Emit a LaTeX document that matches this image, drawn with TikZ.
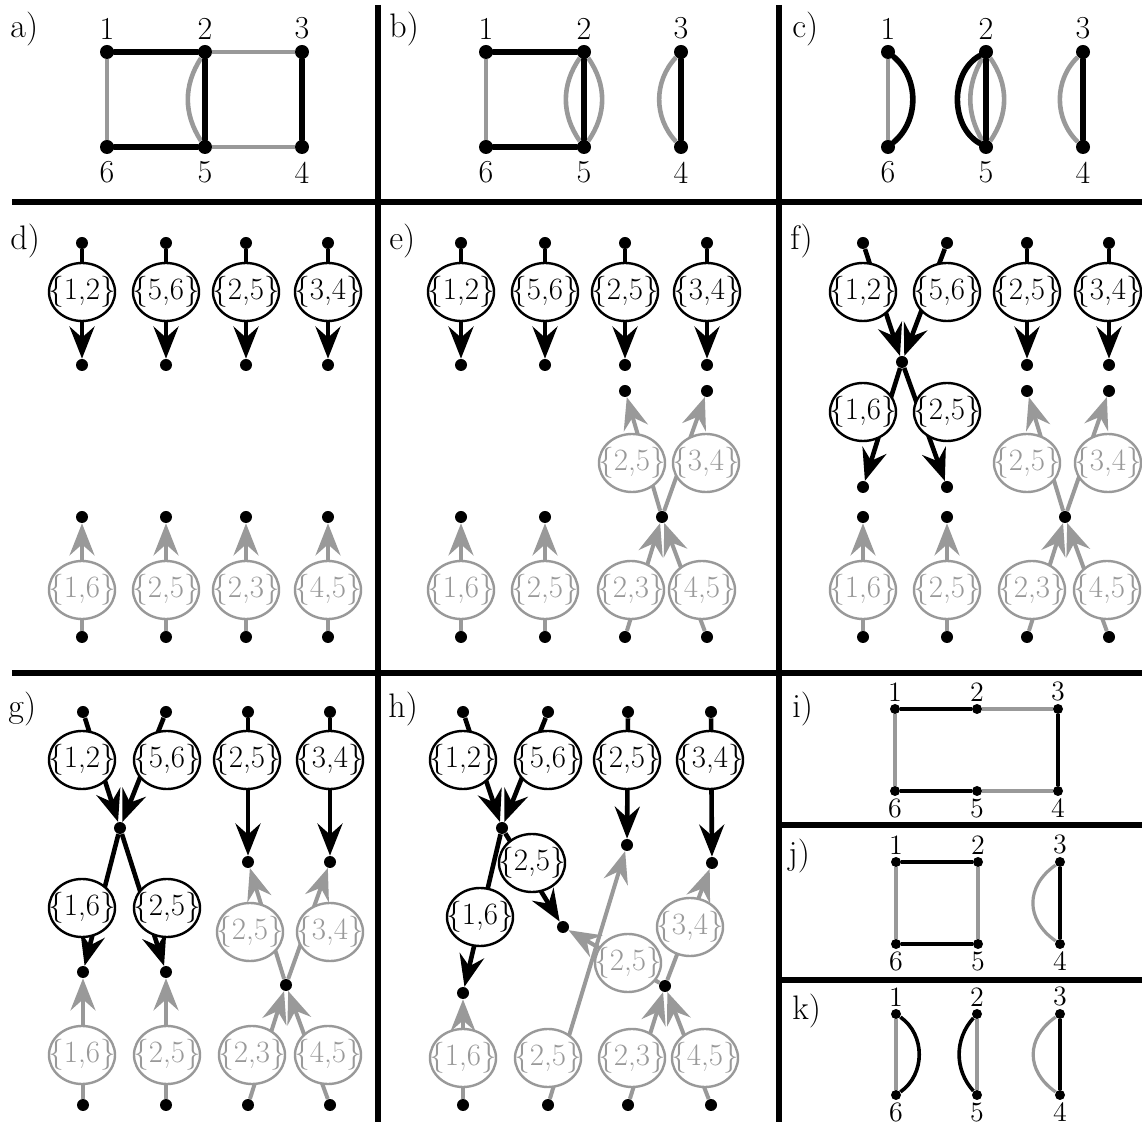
\documentclass[tikz,border=0pt]{standalone}
\usetikzlibrary{arrows.meta,shapes.geometric}
\definecolor{grayc}{gray}{0.6}
\begin{document}
\begin{tikzpicture}[x=0.5pt,y=-0.5pt,
  >={Stealth[length=16pt,width=12.5pt,inset=5.5pt]},
  sepl/.style={line width=2.8pt},
  vdot/.style={circle,fill=black,inner sep=0pt,minimum size=7pt},
  sdot/.style={circle,fill=black,inner sep=0pt,minimum size=5pt},
  pdot/.style={circle,fill=black,inner sep=0pt,minimum size=6pt},
  plab/.style={font=\fontsize{17}{19}\selectfont,anchor=base west,inner sep=0pt},
  numa/.style={font=\fontsize{16}{18}\selectfont,inner sep=2.5pt},
  numb/.style={font=\fontsize{16}{18}\selectfont,inner sep=3.5pt},
  nsa/.style={font=\fontsize{14}{16}\selectfont,inner sep=1pt},
  nsb/.style={font=\fontsize{14}{16}\selectfont,inner sep=1pt},
  ablk/.style={line width=2.8pt,line cap=round},
  agry/.style={line width=2.3pt,draw=grayc},
  sblk/.style={line width=1.8pt},
  sgry/.style={line width=1.6pt,draw=grayc},
  barr/.style={->,line width=2.3pt},
  garr/.style={->,line width=2pt,draw=grayc},
  bell/.style={ellipse,draw=black,fill=white,line width=1.2pt,minimum width=33pt,minimum height=29pt,inner sep=0pt},
  gell/.style={ellipse,draw=grayc,fill=white,line width=1.2pt,minimum width=33pt,minimum height=29pt,inner sep=0pt},
  etx/.style={font=\fontsize{15.5}{17}\selectfont,inner sep=0pt,text=black},
  getx/.style={font=\fontsize{15.5}{17}\selectfont,inner sep=0pt,text=grayc}
]
\useasboundingbox (0,0) rectangle (1142,1122);
\fill[white] (0,0) rectangle (1142,1122);

% separators
\draw[sepl] (378,5) -- (378,1122);
\draw[sepl] (779,5) -- (779,1122);
\draw[sepl] (12,202) -- (1142,202);
\draw[sepl] (12,673) -- (1142,673);
\draw[sepl] (779,825) -- (1142,825);
\draw[sepl] (779,980) -- (1142,980);

% panel labels
\node[plab] (la) at (10,38) {a)};
\node[plab] (lb) at (389,38) {b)};
\node[plab] (lc) at (792,38) {c)};
\node[plab] (ld) at (10,250) {d)};
\node[plab] (le) at (389,250) {e)};
\node[plab] (lf) at (790,250) {f)};
\node[plab] (lg) at (8,718) {g)};
\node[plab] (lh) at (388,718) {h)};
\node[plab] (li) at (792,718) {i)};
\node[plab] (lj) at (788,865) {j)};
\node[plab] (lk) at (792,1020) {k)};

% ---------- panel a
\node[vdot,label={[numa]above:1}] (a1) at (107,52) {};
\node[vdot,label={[numa]above:2}] (a2) at (205,52) {};
\node[vdot,label={[numa]above:3}] (a3) at (302,52) {};
\node[vdot,label={[numb]below:6}] (a6) at (107,147) {};
\node[vdot,label={[numb]below:5}] (a5) at (205,147) {};
\node[vdot,label={[numb]below:4}] (a4) at (302,147) {};
\draw[agry] (a2) -- (a3);
\draw[agry] (a4) -- (a5);
\draw[agry] (a6) -- (a1);
\draw[agry] (a2) to[bend right=33] (a5);
\draw[ablk] (a1) -- (a2);
\draw[ablk] (a3) -- (a4);
\draw[ablk] (a5) -- (a6);
\draw[ablk] (a2) -- (a5);

% ---------- panel b
\node[vdot,label={[numa]above:1}] (b1) at (486,52) {};
\node[vdot,label={[numa]above:2}] (b2) at (584,52) {};
\node[vdot,label={[numa]above:3}] (b3) at (681,52) {};
\node[vdot,label={[numb]below:6}] (b6) at (486,147) {};
\node[vdot,label={[numb]below:5}] (b5) at (584,147) {};
\node[vdot,label={[numb]below:4}] (b4) at (681,147) {};
\draw[agry] (b1) -- (b6);
\draw[agry] (b2) to[bend right=35] (b5);
\draw[agry] (b2) to[bend left=35] (b5);
\draw[agry] (b3) to[bend right=43] (b4);
\draw[ablk] (b1) -- (b2);
\draw[ablk] (b6) -- (b5);
\draw[ablk] (b2) -- (b5);
\draw[ablk] (b3) -- (b4);

% ---------- panel c
\node[vdot,label={[numa]above:1}] (c1) at (888,52) {};
\node[vdot,label={[numa]above:2}] (c2) at (986,52) {};
\node[vdot,label={[numa]above:3}] (c3) at (1083,52) {};
\node[vdot,label={[numb]below:6}] (c6) at (888,147) {};
\node[vdot,label={[numb]below:5}] (c5) at (986,147) {};
\node[vdot,label={[numb]below:4}] (c4) at (1083,147) {};
\draw[agry] (c1) -- (c6);
\draw[agry] (c2) to[bend right=30] (c5);
\draw[agry] (c2) to[bend left=35] (c5);
\draw[agry] (c3) to[bend right=46] (c4);
\draw[ablk] (c1) to[bend left=50] (c6);
\draw[ablk] (c2) to[bend right=60] (c5);
\draw[ablk] (c2) -- (c5);
\draw[ablk] (c3) -- (c4);

% ---------- panel d
\node[pdot] (dt1) at (82,243) {};
\node[pdot] (dt2) at (166,243) {};
\node[pdot] (dt3) at (246,243) {};
\node[pdot] (dt4) at (328,243) {};
\node[pdot] (dm1) at (82,365) {};
\node[pdot] (dm2) at (166,365) {};
\node[pdot] (dm3) at (246,365) {};
\node[pdot] (dm4) at (328,365) {};
\node[pdot] (du1) at (82,517) {};
\node[pdot] (du2) at (166,517) {};
\node[pdot] (du3) at (246,517) {};
\node[pdot] (du4) at (328,517) {};
\node[pdot] (db1) at (82,637) {};
\node[pdot] (db2) at (166,637) {};
\node[pdot] (db3) at (246,637) {};
\node[pdot] (db4) at (328,637) {};
\draw[barr] (dt1) -- (dm1);
\draw[barr] (dt2) -- (dm2);
\draw[barr] (dt3) -- (dm3);
\draw[barr] (dt4) -- (dm4);
\draw[garr] (db1) -- (du1);
\draw[garr] (db2) -- (du2);
\draw[garr] (db3) -- (du3);
\draw[garr] (db4) -- (du4);
\node[bell,label={[etx]center:\{1,2\}}] (de1) at (82,292) {};
\node[bell,label={[etx]center:\{5,6\}}] (de2) at (166,292) {};
\node[bell,label={[etx]center:\{2,5\}}] (de3) at (246,292) {};
\node[bell,label={[etx]center:\{3,4\}}] (de4) at (328,292) {};
\node[gell,label={[getx]center:\{1,6\}}] (dg1) at (82,590) {};
\node[gell,label={[getx]center:\{2,5\}}] (dg2) at (166,590) {};
\node[gell,label={[getx]center:\{2,3\}}] (dg3) at (246,590) {};
\node[gell,label={[getx]center:\{4,5\}}] (dg4) at (328,590) {};

% ---------- panel e
\node[pdot] (et1) at (461,243) {};
\node[pdot] (et2) at (545,243) {};
\node[pdot] (et3) at (625,243) {};
\node[pdot] (et4) at (707,243) {};
\node[pdot] (em1) at (461,365) {};
\node[pdot] (em2) at (545,365) {};
\node[pdot] (em3) at (625,365) {};
\node[pdot] (em4) at (707,365) {};
\node[pdot] (eu3) at (625,391) {};
\node[pdot] (eu4) at (707,391) {};
\node[pdot] (eu1) at (461,517) {};
\node[pdot] (eu2) at (545,517) {};
\node[pdot] (ex) at (662,517) {};
\node[pdot] (eb1) at (461,637) {};
\node[pdot] (eb2) at (545,637) {};
\node[pdot] (eb3) at (625,637) {};
\node[pdot] (eb4) at (707,637) {};
\draw[barr] (et1) -- (em1);
\draw[barr] (et2) -- (em2);
\draw[barr] (et3) -- (em3);
\draw[barr] (et4) -- (em4);
\draw[garr] (eb1) -- (eu1);
\draw[garr] (eb2) -- (eu2);
\draw[garr] (eb3) -- (ex);
\draw[garr] (eb4) -- (ex);
\draw[garr] (ex) -- (eu3);
\draw[garr] (ex) -- (eu4);
\node[bell,label={[etx]center:\{1,2\}}] (ee1) at (461,292) {};
\node[bell,label={[etx]center:\{5,6\}}] (ee2) at (545,292) {};
\node[bell,label={[etx]center:\{2,5\}}] (ee3) at (625,292) {};
\node[bell,label={[etx]center:\{3,4\}}] (ee4) at (707,292) {};
\node[gell,label={[getx]center:\{2,5\}}] (eg5) at (632,463) {};
\node[gell,label={[getx]center:\{3,4\}}] (eg6) at (706,463) {};
\node[gell,label={[getx]center:\{1,6\}}] (eg1) at (461,590) {};
\node[gell,label={[getx]center:\{2,5\}}] (eg2) at (545,590) {};
\node[gell,label={[getx]center:\{2,3\}}] (eg3) at (631,590) {};
\node[gell,label={[getx]center:\{4,5\}}] (eg4) at (702,590) {};

% ---------- panel f
\node[pdot] (ft1) at (863,243) {};
\node[pdot] (ft2) at (947,243) {};
\node[pdot] (ft3) at (1027,243) {};
\node[pdot] (ft4) at (1109,243) {};
\node[pdot] (fx) at (902,362) {};
\node[pdot] (fm3) at (1027,365) {};
\node[pdot] (fm4) at (1109,365) {};
\node[pdot] (fu3) at (1027,391) {};
\node[pdot] (fu4) at (1109,391) {};
\node[pdot] (fm1) at (863,487) {};
\node[pdot] (fm2) at (947,487) {};
\node[pdot] (fu1) at (863,517) {};
\node[pdot] (fu2) at (947,517) {};
\node[pdot] (fgx) at (1065,517) {};
\node[pdot] (fb1) at (863,637) {};
\node[pdot] (fb2) at (947,637) {};
\node[pdot] (fb3) at (1027,637) {};
\node[pdot] (fb4) at (1109,637) {};
\draw[barr] (ft1) -- (fx);
\draw[barr] (ft2) -- (fx);
\draw[barr] (fx) -- (fm1);
\draw[barr] (fx) -- (fm2);
\draw[barr] (ft3) -- (fm3);
\draw[barr] (ft4) -- (fm4);
\draw[garr] (fb1) -- (fu1);
\draw[garr] (fb2) -- (fu2);
\draw[garr] (fb3) -- (fgx);
\draw[garr] (fb4) -- (fgx);
\draw[garr] (fgx) -- (fu3);
\draw[garr] (fgx) -- (fu4);
\node[bell,label={[etx]center:\{1,2\}}] (fe1) at (863,292) {};
\node[bell,label={[etx]center:\{5,6\}}] (fe2) at (947,292) {};
\node[bell,label={[etx]center:\{2,5\}}] (fe3) at (1027,292) {};
\node[bell,label={[etx]center:\{3,4\}}] (fe4) at (1108,292) {};
\node[bell,label={[etx]center:\{1,6\}}] (fe5) at (863,412) {};
\node[bell,label={[etx]center:\{2,5\}}] (fe6) at (947,412) {};
\node[gell,label={[getx]center:\{2,5\}}] (fg5) at (1027,463) {};
\node[gell,label={[getx]center:\{3,4\}}] (fg6) at (1108,463) {};
\node[gell,label={[getx]center:\{1,6\}}] (fg1) at (863,590) {};
\node[gell,label={[getx]center:\{2,5\}}] (fg2) at (947,590) {};
\node[gell,label={[getx]center:\{2,3\}}] (fg3) at (1032,590) {};
\node[gell,label={[getx]center:\{4,5\}}] (fg4) at (1107,590) {};

% ---------- panel g
\node[pdot] (gt1) at (83,712) {};
\node[pdot] (gt2) at (166,712) {};
\node[pdot] (gt3) at (248,712) {};
\node[pdot] (gt4) at (330,712) {};
\node[pdot] (gx) at (120,828) {};
\node[pdot] (gm3) at (248,862) {};
\node[pdot] (gm4) at (330,862) {};
\node[pdot] (gm1) at (83,972) {};
\node[pdot] (gm2) at (166,972) {};
\node[pdot] (ggx) at (286,985) {};
\node[pdot] (gb1) at (83,1105) {};
\node[pdot] (gb2) at (166,1105) {};
\node[pdot] (gb3) at (248,1105) {};
\node[pdot] (gb4) at (330,1105) {};
\draw[barr] (gt1) -- (gx);
\draw[barr] (gt2) -- (gx);
\draw[barr] (gx) -- (gm1);
\draw[barr] (gx) -- (gm2);
\draw[barr] (gt3) -- (gm3);
\draw[barr] (gt4) -- (gm4);
\draw[garr] (gb1) -- (gm1);
\draw[garr] (gb2) -- (gm2);
\draw[garr] (gb3) -- (ggx);
\draw[garr] (gb4) -- (ggx);
\draw[garr] (ggx) -- (gm3);
\draw[garr] (ggx) -- (gm4);
\node[bell,label={[etx]center:\{1,2\}}] (ge1) at (82,760) {};
\node[bell,label={[etx]center:\{5,6\}}] (ge2) at (167,760) {};
\node[bell,label={[etx]center:\{2,5\}}] (ge3) at (247,760) {};
\node[bell,label={[etx]center:\{3,4\}}] (ge4) at (330,760) {};
\node[bell,label={[etx]center:\{1,6\}}] (ge5) at (82,908) {};
\node[bell,label={[etx]center:\{2,5\}}] (ge6) at (167,908) {};
\node[gell,label={[getx]center:\{2,5\}}] (gg5) at (250,932) {};
\node[gell,label={[getx]center:\{3,4\}}] (gg6) at (330,932) {};
\node[gell,label={[getx]center:\{1,6\}}] (gg1) at (82,1055) {};
\node[gell,label={[getx]center:\{2,5\}}] (gg2) at (167,1055) {};
\node[gell,label={[getx]center:\{2,3\}}] (gg3) at (252,1055) {};
\node[gell,label={[getx]center:\{4,5\}}] (gg4) at (328,1055) {};

% ---------- panel h
\node[pdot] (ht1) at (463,712) {};
\node[pdot] (ht2) at (548,712) {};
\node[pdot] (ht3) at (628,712) {};
\node[pdot] (ht4) at (711,712) {};
\node[pdot] (hx) at (502,828) {};
\node[pdot] (hm3) at (627,845) {};
\node[pdot] (hm4) at (712,863) {};
\node[pdot] (hm2) at (563,927) {};
\node[pdot] (hm1) at (463,993) {};
\node[pdot] (hgx) at (665,986) {};
\node[pdot] (hb1) at (463,1105) {};
\node[pdot] (hb2) at (548,1105) {};
\node[pdot] (hb3) at (628,1105) {};
\node[pdot] (hb4) at (711,1105) {};
\draw[barr] (ht1) -- (hx);
\draw[barr] (ht2) -- (hx);
\draw[barr] (hx) -- (hm1);
\draw[barr] (hx) -- (hm2);
\draw[barr] (ht3) -- (hm3);
\draw[barr] (ht4) -- (hm4);
\draw[garr] (hb1) -- (hm1);
\draw[garr] (hb2) -- (hm3);
\draw[garr] (hb3) -- (hgx);
\draw[garr] (hb4) -- (hgx);
\draw[garr] (hgx) -- (hm2);
\draw[garr] (hgx) -- (hm4);
\node[bell,label={[etx]center:\{1,2\}}] (he1) at (463,760) {};
\node[bell,label={[etx]center:\{5,6\}}] (he2) at (548,760) {};
\node[bell,label={[etx]center:\{2,5\}}] (he3) at (627,760) {};
\node[bell,label={[etx]center:\{3,4\}}] (he4) at (710,760) {};
\node[bell,label={[etx]center:\{2,5\}}] (he6) at (532,863) {};
\node[bell,label={[etx]center:\{1,6\}}] (he5) at (480,917) {};
\node[gell,label={[getx]center:\{2,5\}}] (hg5) at (628,963) {};
\node[gell,label={[getx]center:\{3,4\}}] (hg6) at (690,927) {};
\node[gell,label={[getx]center:\{1,6\}}] (hg1) at (463,1058) {};
\node[gell,label={[getx]center:\{2,5\}}] (hg2) at (548,1058) {};
\node[gell,label={[getx]center:\{2,3\}}] (hg3) at (632,1058) {};
\node[gell,label={[getx]center:\{4,5\}}] (hg4) at (705,1058) {};

% ---------- panel i
\node[sdot,label={[nsa]above:1}] (i1) at (895,709) {};
\node[sdot,label={[nsa]above:2}] (i2) at (977,709) {};
\node[sdot,label={[nsa]above:3}] (i3) at (1058,709) {};
\node[sdot,label={[nsb]below:6}] (i6) at (895,791) {};
\node[sdot,label={[nsb]below:5}] (i5) at (977,791) {};
\node[sdot,label={[nsb]below:4}] (i4) at (1058,791) {};
\draw[sgry] (i2) -- (i3);
\draw[sgry] (i4) -- (i5);
\draw[sgry] (i6) -- (i1);
\draw[sblk] (i1) -- (i2);
\draw[sblk] (i3) -- (i4);
\draw[sblk] (i5) -- (i6);

% ---------- panel j
\node[sdot,label={[nsa]above:1}] (j1) at (896,862) {};
\node[sdot,label={[nsa]above:2}] (j2) at (978,862) {};
\node[sdot,label={[nsa]above:3}] (j3) at (1060,862) {};
\node[sdot,label={[nsb]below:6}] (j6) at (896,944) {};
\node[sdot,label={[nsb]below:5}] (j5) at (978,944) {};
\node[sdot,label={[nsb]below:4}] (j4) at (1060,944) {};
\draw[sgry] (j1) -- (j6);
\draw[sgry] (j2) -- (j5);
\draw[sgry] (j3) to[bend right=55,looseness=1.25] (j4);
\draw[sblk] (j1) -- (j2);
\draw[sblk] (j6) -- (j5);
\draw[sblk] (j3) -- (j4);

% ---------- panel k
\node[sdot,label={[nsa]above:1}] (k1) at (896,1014) {};
\node[sdot,label={[nsa]above:2}] (k2) at (977,1014) {};
\node[sdot,label={[nsa]above:3}] (k3) at (1060,1014) {};
\node[sdot,label={[nsb]below:6}] (k6) at (896,1095) {};
\node[sdot,label={[nsb]below:5}] (k5) at (977,1095) {};
\node[sdot,label={[nsb]below:4}] (k4) at (1060,1095) {};
\draw[sgry] (k1) -- (k6);
\draw[sgry] (k2) -- (k5);
\draw[sgry] (k3) to[bend right=55,looseness=1.25] (k4);
\draw[sblk] (k1) to[bend left=55,looseness=1.05] (k6);
\draw[sblk] (k2) to[bend right=42] (k5);
\draw[sblk] (k3) -- (k4);
\end{tikzpicture}
\end{document}
